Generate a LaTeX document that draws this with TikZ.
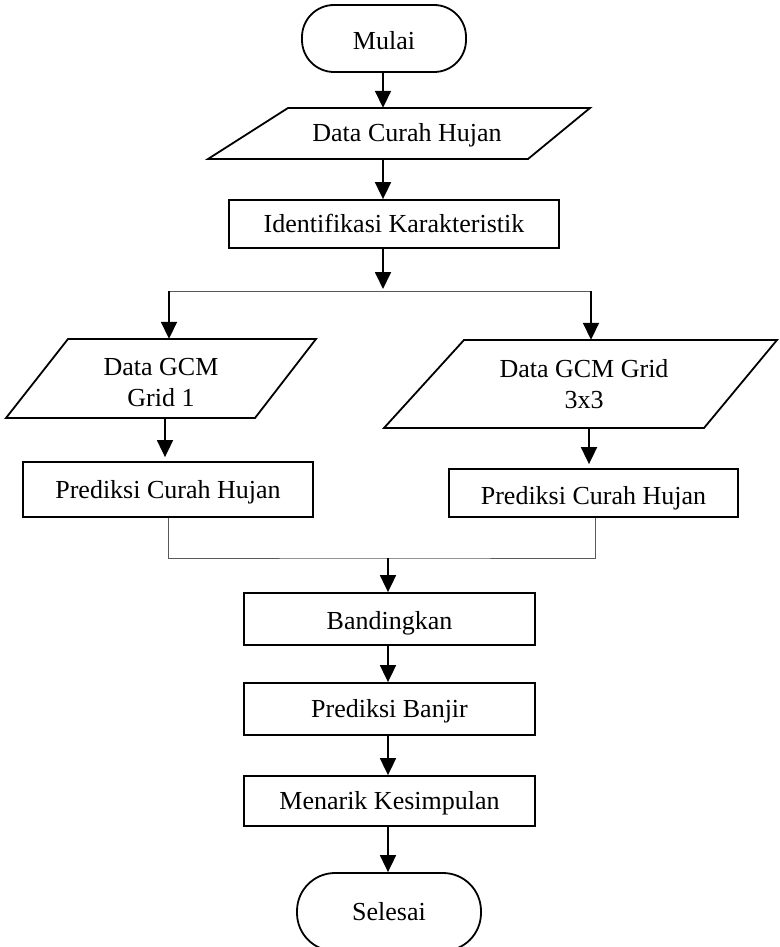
\documentclass[tikz,border=0pt]{standalone}
\usepackage{fontspec}
\setmainfont{Liberation Serif}
\usetikzlibrary{arrows.meta}
\begin{document}
\begin{tikzpicture}[x=1pt,y=-1pt,
  txt/.style={inner sep=0pt, font=\fontsize{26}{31}\selectfont, align=center},
  one/.style={txt, text height=17pt, text depth=0pt},
  proc/.style={one, draw, line width=1.8pt, rectangle},
  term/.style={proc, rounded corners=32pt},
  shp/.style={draw, line width=1.8pt, line join=miter},
  arr/.style={line width=1.8pt, -{Triangle[length=17pt,width=16pt]}},
  thinline/.style={line width=1pt, draw=black!65}
]
\useasboundingbox (0,0) rectangle (779,947);
\clip (0,0) rectangle (779,947);

% nodes
\node[term, minimum width=164pt, minimum height=67pt] (mulai) at (384,38.5) {};
\node[one] (mulait) at (384,41) {Mulai};
\draw[shp] (288,108) -- (590,108) -- (528,159) -- (208,159) -- cycle;
\node[one, minimum width=240pt, minimum height=51pt] (dch) at (407,133.5) {Data Curah Hujan};
\node[proc, minimum width=330pt, minimum height=48pt] (ident) at (394,224) {Identifikasi Karakteristik};

\draw[shp] (68,339) -- (316,339) -- (255,418) -- (6,418) -- cycle;
\node[minimum width=150pt, minimum height=79pt, inner sep=0pt] (gcm1) at (161,378.5) {};
\node[txt] (gcm1t) at (161,383) {Data GCM\\Grid 1};
\draw[shp] (464,340) -- (777,340) -- (704,428) -- (384,428) -- cycle;
\node[minimum width=200pt, minimum height=88pt, inner sep=0pt] (gcm3) at (584,384) {};
\node[txt] (gcm3t) at (584,384) {Data GCM Grid\\3x3};

\node[proc, minimum width=290pt, minimum height=55pt] (pch1) at (168,489.5) {Prediksi Curah Hujan};
\node[proc, minimum width=289pt, minimum height=48pt] (pch3) at (593.5,493) {};
\node[one] (pch3t) at (593.5,496) {Prediksi Curah Hujan};

\node[proc, minimum width=291pt, minimum height=52pt] (band) at (389.5,619) {};
\node[one] (bandt) at (389.5,621) {Bandingkan};
\node[proc, minimum width=291pt, minimum height=52pt] (banjir) at (389.5,709) {Prediksi Banjir};
\node[proc, minimum width=291pt, minimum height=50pt] (tarik) at (389.5,801) {Menarik Kesimpulan};
\node[term, minimum width=184pt, minimum height=78pt, rounded corners=38pt] (selesai) at (389,912) {Selesai};

% connector points
\coordinate (split) at (383,291);
\coordinate (bl) at (169,291);
\coordinate (br) at (591,291);
\coordinate (join) at (388,558);

% connectors
\draw[arr] (mulai.south -| split) -- (split |- dch.north);
\draw[arr] (split |- dch.south) -- (split |- ident.north);
\draw[arr] (split |- ident.south) -- ([yshift=2pt]split);
\draw[thinline] (bl) -- (br);
\draw[arr] (bl) -- (bl |- gcm1.north);
\draw[arr] (br) -- (br |- gcm3.north);
\draw[arr] ([xshift=4pt]gcm1.south) -- ([xshift=4pt,yshift=4pt]gcm1.south |- pch1.north);
\draw[arr] ([xshift=5pt]gcm3.south) -- ([xshift=5pt,yshift=4pt]gcm3.south |- pch3.north);
\draw[thinline] (pch1.south) |- (join) -| ([xshift=2pt]pch3.south);
\draw[arr] (join) -- (join |- band.north);
\draw[arr] (join |- band.south) -- (join |- banjir.north);
\draw[arr] (join |- banjir.south) -- (join |- tarik.north);
\draw[arr] (join |- tarik.south) -- (join |- selesai.north);
\end{tikzpicture}
\end{document}
